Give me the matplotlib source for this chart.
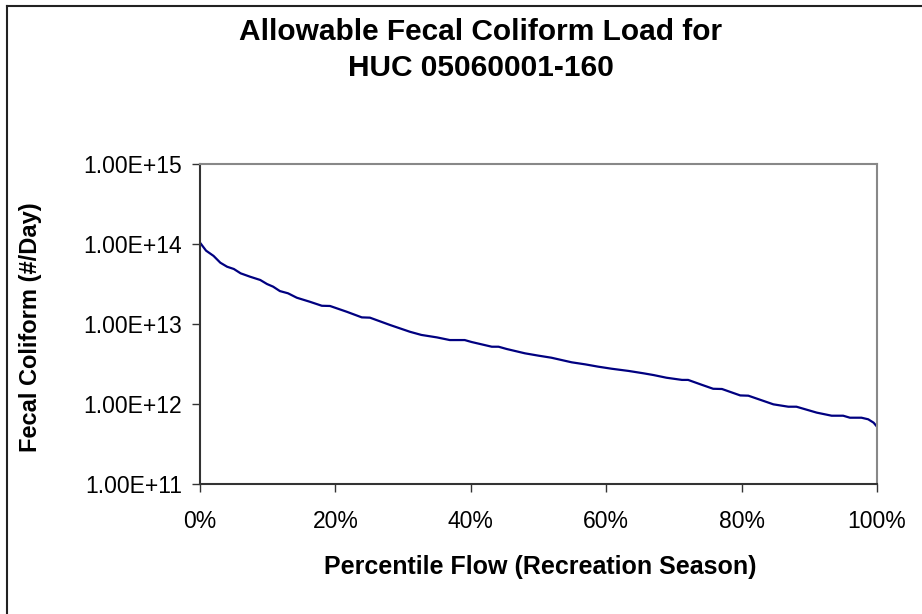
import math
import matplotlib
matplotlib.use('Agg')
import matplotlib.pyplot as plt
from matplotlib.ticker import FuncFormatter, FixedLocator
from matplotlib.lines import Line2D

plt.rcParams['font.family'] = ['Liberation Sans', 'DejaVu Sans']

# percentile flow (%) and allowable load (#/day)
percentile = [0, 0.9, 2, 3, 4, 5, 6, 7.4, 8.9, 9.9, 10.8, 11.8, 13, 14.3, 16.2,
              18, 19.2, 21.7, 23.9, 25.1, 28.1, 31, 32.7, 35, 36.9, 39.1, 40.1,
              43.1, 44.1, 45.3, 48, 50, 51.9, 54.9, 56.9, 58.8, 60.8, 63.3,
              65.5, 67, 68.9, 71.2, 72.1, 74.1, 75.8, 77.1, 79.8, 81, 84.7,
              86.9, 88.1, 91.1, 93.3, 95, 96, 97.7, 98.7, 99.5, 100]
load = [1.04e14, 8.25e13, 7.1e13, 5.84e13, 5.2e13, 4.87e13, 4.3e13, 3.9e13,
        3.55e13, 3.16e13, 2.93e13, 2.58e13, 2.42e13, 2.13e13, 1.9e13, 1.69e13,
        1.68e13, 1.42e13, 1.21e13, 1.2e13, 9.7e12, 8.0e12, 7.3e12, 6.8e12,
        6.3e12, 6.3e12, 5.96e12, 5.2e12, 5.2e12, 4.87e12, 4.3e12, 4.02e12,
        3.79e12, 3.32e12, 3.13e12, 2.93e12, 2.76e12, 2.59e12, 2.42e12, 2.3e12,
        2.13e12, 2.0e12, 2.0e12, 1.74e12, 1.55e12, 1.54e12, 1.28e12, 1.27e12,
        9.9e11, 9.25e11, 9.25e11, 7.8e11, 7.14e11, 7.14e11, 6.74e11, 6.74e11,
        6.44e11, 5.84e11, 5.2e11]

x_ticks = [0, 20, 40, 60, 80, 100]
y_ticks = [1e11, 1e12, 1e13, 1e14, 1e15]

fig = plt.figure(figsize=(9.22, 6.14), dpi=100)
ax = fig.add_axes([200/922, 1-484/614, 677/922, 320/614])

ax.plot(percentile, load, color='#000080', lw=1.6)
ax.set_yscale('log')
ax.set_xlim(0, 100)
ax.set_ylim(1e11, 1e15)
ax.yaxis.set_major_locator(FixedLocator(y_ticks))
ax.yaxis.set_minor_locator(FixedLocator([]))
ax.xaxis.set_major_locator(FixedLocator(x_ticks))
ax.yaxis.set_major_formatter(FuncFormatter(lambda v, p: '1.00E+%d' % round(math.log10(v))))
ax.xaxis.set_major_formatter(FuncFormatter(lambda v, p: '%d%%' % v))

ax.tick_params(axis='both', direction='out', length=6, width=1, color='#333333',
               labelsize=16.5)
ax.tick_params(axis='y', pad=7)
ax.tick_params(axis='x', pad=13)

for s in ['top', 'right']:
    ax.spines[s].set_color('#888888')
    ax.spines[s].set_linewidth(1.5)
for s in ['left', 'bottom']:
    ax.spines[s].set_color('#333333')
    ax.spines[s].set_linewidth(1.5)

fig.text(481/922, 1-32/614, 'Allowable Fecal Coliform Load for', ha='center', va='center',
         fontsize=21.5, fontweight='bold')
fig.text(481/922, 1-68/614, 'HUC 05060001-160', ha='center', va='center',
         fontsize=21.5, fontweight='bold')
fig.text(30/922, 1-327/614, 'Fecal Coliform (#/Day)', ha='center', va='center',
         rotation=90, fontsize=17, fontweight='bold')
fig.text(540/922, 1-567/614, 'Percentile Flow (Recreation Season)', ha='center', va='center',
         fontsize=18, fontweight='bold')

# frame on the left and top edges
fig.add_artist(Line2D([7/922, 7/922], [0, 1-6/614], color='#222222', lw=1.5))
fig.add_artist(Line2D([7/922, 1], [1-6/614, 1-6/614], color='#222222', lw=1.5))

fig.savefig('out.png', dpi=100)
